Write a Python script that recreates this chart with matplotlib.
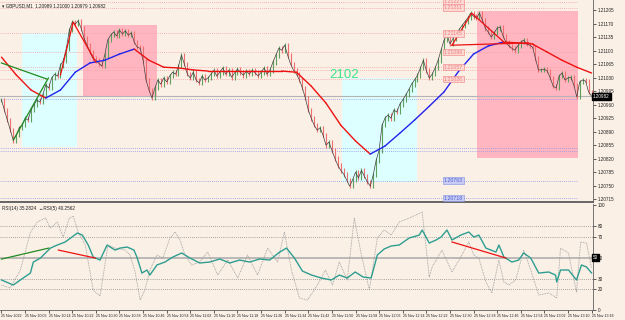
import matplotlib
matplotlib.use('Agg')
import matplotlib.pyplot as plt
from matplotlib.patches import Rectangle
import numpy as np

# GBPUSD M1 closes, one per minute from 09:58
closes = [
    1.20972, 1.20946, 1.20920, 1.20894, 1.20868, 1.20881, 1.20900, 1.20907, 1.20925, 1.20920,
    1.20946, 1.20959, 1.20972, 1.20967, 1.20985, 1.21011, 1.21003, 1.21029, 1.21039, 1.21034,
    1.21062, 1.21075, 1.21106, 1.21153, 1.21174, 1.21169, 1.21177, 1.21158, 1.21132, 1.21114,
    1.21096, 1.21080, 1.21075, 1.21067, 1.21060, 1.21088, 1.21127, 1.21140, 1.21148, 1.21138,
    1.21153, 1.21143, 1.21151, 1.21140, 1.21146, 1.21122, 1.21109, 1.21106, 1.21075, 1.21024,
    1.20998, 1.20977, 1.21003, 1.21024, 1.21013, 1.21029, 1.21019, 1.21034, 1.21044, 1.21039,
    1.21060, 1.21088, 1.21065, 1.21039, 1.21029, 1.21044, 1.21024, 1.21016, 1.21034, 1.21024,
    1.21029, 1.21039, 1.21049, 1.21034, 1.21044, 1.21055, 1.21039, 1.21049, 1.21031, 1.21042,
    1.21052, 1.21044, 1.21036, 1.21047, 1.21039, 1.21049, 1.21042, 1.21034, 1.21044, 1.21055,
    1.21039, 1.21049, 1.21070, 1.21088, 1.21106, 1.21101, 1.21114, 1.21088, 1.21065, 1.21049,
    1.21039, 1.21024, 1.21003, 1.20977, 1.20946, 1.20925, 1.20907, 1.20894, 1.20900, 1.20881,
    1.20855, 1.20863, 1.20842, 1.20821, 1.20803, 1.20790, 1.20780, 1.20765, 1.20749, 1.20765,
    1.20785, 1.20770, 1.20790, 1.20775, 1.20760, 1.20749, 1.20778, 1.20816, 1.20842, 1.20907,
    1.20925, 1.20933, 1.20925, 1.20946, 1.20941, 1.20961, 1.20972, 1.20985, 1.20998, 1.21013,
    1.21024, 1.21036, 1.21055, 1.21075, 1.21049, 1.21029, 1.21039, 1.21055, 1.21075, 1.21101,
    1.21127, 1.21143, 1.21117, 1.21130, 1.21146, 1.21153, 1.21164, 1.21174, 1.21184, 1.21197,
    1.21189, 1.21184, 1.21197, 1.21179, 1.21158, 1.21148, 1.21135, 1.21146, 1.21158, 1.21161,
    1.21138, 1.21122, 1.21112, 1.21106, 1.21101, 1.21112, 1.21122, 1.21127, 1.21117, 1.21114,
    1.21109, 1.21080, 1.21050, 1.21050, 1.21052, 1.21047, 1.21029, 1.21008, 1.21003, 1.21034,
    1.21042, 1.21024, 1.21029, 1.21031, 1.21011, 1.20980, 1.21019, 1.21024, 1.21021, 1.20993,
    1.20982,
]

# moving average read every 5 bars (red falling, blue rising)
ma_idx = list(range(0, 201, 5))
ma_vals = [
    1.21083, 1.21037, 1.20998, 1.20977, 1.20998, 1.21044, 1.21068, 1.21075, 1.21091, 1.21104,
    1.21075, 1.21057, 1.21055, 1.21050, 1.21047, 1.21047, 1.21047, 1.21047, 1.21047, 1.21047,
    1.21044, 1.21008, 1.20964, 1.20907, 1.20866, 1.20832, 1.20853, 1.20886, 1.20920, 1.20956,
    1.20993, 1.21047, 1.21091, 1.21112, 1.21122, 1.21120, 1.21117, 1.21096, 1.21075, 1.21057,
    1.21042,
]

# RSI(14) and RSI(5): bar position, value
rsi14_bars = [0, 4, 6.4, 9.8, 10.8, 13.2, 16.6, 18.9, 21.6, 25.7, 27.4, 29.4, 31.1, 33.4, 35.8,
              38.5, 40.2, 42.6, 44.9, 45.9, 47.6, 49.3, 50.3, 52.7, 55.4, 58.1, 61.1, 63.9, 67.2,
              70.6, 74, 77.4, 80.7, 84.1, 87.5, 90.9, 94.3, 96.6, 99.3, 102, 105.1, 108.4, 111.8,
              114.5, 117.2, 119.9, 122.6, 125.3, 127.4, 129.7, 132.1, 134.8, 138.2, 141.6, 142.6,
              145, 147.3, 149, 151, 152.7, 155.7, 158.4, 160.1, 161.8, 164.2, 167.6, 168.6, 170.3,
              173, 175.3, 177, 179.4, 182.1, 185.5, 187.8, 188.2, 189.5, 192.2, 194.9, 196.6,
              198.3, 200]
rsi14_vals = [28.6, 23.8, 28.6, 35.2, 45.7, 49.5, 59.0, 61.9, 64.8, 73.3, 71.4, 61.9, 50.5, 47.6,
              61.9, 57.1, 59.0, 60.0, 57.1, 50.5, 35.2, 38.1, 33.3, 42.9, 45.7, 50.5, 54.3, 49.5,
              44.8, 45.7, 48.6, 44.8, 47.6, 45.7, 48.6, 47.6, 55.2, 59.0, 49.5, 37.1, 33.3, 30.5,
              28.6, 33.3, 30.5, 36.2, 31.4, 30.5, 52.4, 58.1, 61.0, 61.9, 68.6, 71.4, 76.2, 63.8,
              66.7, 69.5, 76.2, 66.7, 71.4, 74.3, 69.5, 71.4, 59.0, 55.2, 61.9, 50.5, 45.7, 47.6,
              54.3, 49.5, 35.2, 36.2, 33.3, 26.7, 38.1, 38.1, 28.6, 42.9, 41.0, 35.3]
rsi5_bars = [0, 3, 6.4, 9.8, 12.2, 14.9, 16.6, 18.9, 20.9, 23, 24.3, 26, 28.4, 31.1, 33.4, 36.1,
             38.5, 41.9, 43.6, 45.3, 47, 48.6, 50.3, 52.7, 54.7, 57.1, 58.8, 60.5, 62.2, 64.5,
             67.2, 69.9, 73.3, 76.7, 80.1, 83.4, 86.8, 90.2, 93.6, 95.9, 98.3, 101, 103.7, 107.1,
             109.8, 112.2, 114.5, 117.2, 119.6, 122, 124.7, 127.4, 129.7, 132.1, 134.8, 138.2,
             142.6, 145, 146, 149.3, 152.7, 155.7, 158.4, 160.1, 161.8, 164.2, 166.2, 168.6,
             170.3, 172, 174.3, 177, 179.4, 182.1, 185.5, 188.2, 189.5, 192.2, 194.9, 196.3,
             198.3, 200]
rsi5_vals = [23.8, 21.0, 38.0, 74.0, 84.0, 87.6, 78.0, 84.0, 69.5, 87.6, 89.5, 74.3, 61.9, 19.0,
             13.3, 61.9, 59.0, 57.1, 52.4, 36.2, 9.5, 19.0, 38.0, 52.4, 49.5, 68.6, 74.3, 66.7,
             52.4, 42.9, 45.7, 55.2, 33.3, 47.6, 30.5, 52.4, 33.3, 59.0, 45.7, 74.3, 38.0, 11.4,
             9.5, 23.8, 38.0, 23.8, 45.7, 28.6, 87.6, 52.4, 19.0, 68.6, 76.2, 71.4, 83.8, 87.6,
             93.3, 31.4, 41.0, 57.1, 36.2, 50.5, 64.8, 52.4, 49.5, 26.7, 16.2, 47.6, 26.7, 23.8,
             28.6, 57.1, 38.0, 14.3, 16.2, 11.4, 59.0, 54.3, 17.1, 64.8, 63.8, 40.3]

# zone rectangles: (bar start, bar end, price low, price high)
cyan_zones = [(6.8, 25.7, 1.20850, 1.21145), (115.5, 140.9, 1.20760, 1.21029)]
pink_zones = [(27.7, 52.7, 1.20980, 1.21166), (161.1, 195.3, 1.20822, 1.21202)]

red_levels = [1.21227, 1.21211, 1.21145, 1.21096, 1.21057, 1.21050, 1.21026]
red_labeled = [True, True, True, True, True, False, True]
blue_levels = [1.20975, 1.20847, 1.20840, 1.20763, 1.20718, 1.20710]
blue_labeled = [False, False, False, True, True, False]
last_price = 1.20982

# pattern lines on price: lists of (bar, price)
green_lines = [[(0, 1.21068), (15.5, 1.21026)], [(4, 1.20868), (15.9, 1.21029)]]
red_lines = [[(20, 1.21037), (24.3, 1.21174), (32, 1.21070)],
             [(152.7, 1.21114), (159.4, 1.21197), (170.3, 1.21122)],
             [(152.7, 1.21114), (178.7, 1.21120)]]

# lines on RSI: (bar, rsi)
rsi_green = [(0, 48.5), (16, 59.0)]
rsi_red = [[(19.3, 57.1), (31.8, 49.5)], [(152.7, 64.8), (171, 49.5)]]

price_ticks = [1.20715, 1.20750, 1.20785, 1.20820, 1.20855, 1.20890, 1.20925, 1.20960,
               1.20995, 1.21030, 1.21065, 1.21100, 1.21135, 1.21170, 1.21205]
rsi_ticks = [0, 20, 30, 50, 70, 80, 100]
time_labels = ['25 Nov 2022', '25 Nov 10:06', '25 Nov 10:14', '25 Nov 10:22', '25 Nov 10:30',
               '25 Nov 10:38', '25 Nov 10:46', '25 Nov 10:54', '25 Nov 11:02', '25 Nov 11:10',
               '25 Nov 11:18', '25 Nov 11:26', '25 Nov 11:34', '25 Nov 11:42', '25 Nov 11:50',
               '25 Nov 11:58', '25 Nov 12:06', '25 Nov 12:14', '25 Nov 12:22', '25 Nov 12:30',
               '25 Nov 12:38', '25 Nov 12:46', '25 Nov 12:54', '25 Nov 13:02', '25 Nov 13:10',
               '25 Nov 13:18']

bg = '#FAF0E6'
fs = 3.3
plt.rcParams['font.family'] = ['Liberation Sans', 'DejaVu Sans']

fig = plt.figure(figsize=(6.25, 3.2), dpi=100, facecolor=bg)
ax = fig.add_axes([0, 1 - 202 / 320, 593 / 625, 202 / 320], facecolor=bg)
ax2 = fig.add_axes([0, 1 - 310 / 320, 593 / 625, 106 / 320], facecolor=bg)

n = len(closes)
x = np.arange(n)
c = np.array(closes)
o = np.concatenate([[c[0]], c[:-1]])
pad = 0.00006
hi = np.maximum(o, c) + pad
lo = np.minimum(o, c) - pad

for b0, b1, p0, p1 in cyan_zones:
    ax.add_patch(Rectangle((b0, p0), b1 - b0, p1 - p0, color='#DDFFFF', lw=0, zorder=0))
for b0, b1, p0, p1 in pink_zones:
    ax.add_patch(Rectangle((b0, p0), b1 - b0, p1 - p0, color='#FFB6C1', lw=0, zorder=0))

for lv, lab in zip(red_levels, red_labeled):
    ax.plot([-1, 195.5], [lv, lv], color='#F4A0A0', lw=0.6, ls=(0, (1, 1.5)), zorder=1)
    if lab:
        ax.text(150, lv, '%.5f' % lv, fontsize=3.8, color='#F08080', va='center', ha='left',
                bbox=dict(boxstyle='square,pad=0.15', fc='#FBD8D2', ec='#F08080', lw=0.4), zorder=6)
for lv, lab in zip(blue_levels, blue_labeled):
    ax.plot([-1, 195.5], [lv, lv], color='#8C94E8', lw=0.6, ls=(0, (1, 1.5)), zorder=1)
    if lab:
        ax.text(150, lv, '%.5f' % lv, fontsize=3.8, color='#5060D0', va='center', ha='left',
                bbox=dict(boxstyle='square,pad=0.15', fc='#C8CCF4', ec='#7F8FE0', lw=0.4), zorder=6)
ax.axhline(last_price, color='#B4B4B4', lw=0.8, zorder=1)

cols = np.where(c >= o, '#5FA05F', '#F07070')
ax.vlines(x, lo, hi, colors=cols, lw=0.8, zorder=2)
ax.plot(x, c, color='#404040', lw=0.5, zorder=3)

for k in range(len(ma_idx) - 1):
    col = '#EE1111' if ma_vals[k + 1] <= ma_vals[k] else '#2222EE'
    ax.plot(ma_idx[k:k + 2], ma_vals[k:k + 2], color=col, lw=1.0, zorder=4,
            solid_capstyle='round')

for seg in green_lines:
    ax.plot([p[0] for p in seg], [p[1] for p in seg], color='#228B22', lw=0.9, zorder=4)
for seg in red_lines:
    ax.plot([p[0] for p in seg], [p[1] for p in seg], color='#EE1111', lw=0.9, zorder=4)

ax.text(116, 1.21037, '2102', color='#3CE68C', fontsize=9.5, ha='center', va='center', zorder=5)
ax.text(0.004, 0.985, '\u25be GBPUSD,M1  1.20989 1.21000 1.20979 1.20982', transform=ax.transAxes,
        fontsize=fs, va='top', ha='left', color='#202020')

ax.set_xlim(-0.5, 200.5)
ax.set_ylim(1.20708, 1.21231)
ax.set_xticks([])
ax.yaxis.tick_right()
ax.set_yticks(price_ticks)
ax.set_yticklabels(['%.5f' % v for v in price_ticks], fontsize=fs)
ax.tick_params(axis='y', length=2, width=0.5, pad=1.5, colors='#202020')
for s in ['left', 'top']:
    ax.spines[s].set_visible(False)
ax.spines['right'].set_color('#606060')
ax.spines['right'].set_linewidth(0.6)
ax.spines['bottom'].set_color('#505050')
ax.spines['bottom'].set_linewidth(1.2)
ax.text(1.0, last_price, '%.5f' % last_price, transform=ax.get_yaxis_transform(), fontsize=fs,
        color='white', va='center', ha='left',
        bbox=dict(boxstyle='square,pad=0.2', fc='black', ec='black'), zorder=10, clip_on=False)

# RSI panel
for lv in [80, 70, 30, 20]:
    ax2.axhline(lv, color='#8A8A8A', lw=0.6, ls=(0, (1, 1.5)))
ax2.axhline(50, color='#B0B0B0', lw=1.2)
ax2.plot(rsi5_bars, rsi5_vals, color='#9A9A9A', lw=0.6, ls=(0, (1, 1)))
ax2.plot(rsi14_bars, rsi14_vals, color='#2E9E90', lw=1.0)
ax2.plot([p[0] for p in rsi_green], [p[1] for p in rsi_green], color='#228B22', lw=0.9)
for seg in rsi_red:
    ax2.plot([p[0] for p in seg], [p[1] for p in seg], color='#EE1111', lw=0.9)

ax2.text(0.004, 0.985, 'RSI(14) 35.2824  \u2194RSI(5) 40.2562', transform=ax2.transAxes,
         fontsize=fs, va='top', ha='left', color='#202020')

ax2.set_xlim(-0.5, 200.5)
ax2.set_ylim(0, 101)
ax2.yaxis.tick_right()
ax2.set_yticks(rsi_ticks)
ax2.set_yticklabels([str(v) for v in rsi_ticks], fontsize=fs)
ax2.tick_params(axis='y', length=2, width=0.5, pad=1.5, colors='#202020')
ax2.text(1.0, 50, '50', transform=ax2.get_yaxis_transform(), fontsize=fs, color='white',
         va='center', ha='left', bbox=dict(boxstyle='square,pad=0.2', fc='black', ec='black'),
         zorder=10, clip_on=False)
ax2.set_xticks(list(range(0, 201, 8)))
ax2.set_xticklabels(time_labels, fontsize=2.6, ha='left')
ax2.tick_params(axis='x', length=2, width=0.5, pad=1, colors='#202020')
for sp in ['left', 'top']:
    ax2.spines[sp].set_visible(False)
ax2.spines['right'].set_color('#606060')
ax2.spines['right'].set_linewidth(0.6)
ax2.spines['bottom'].set_color('#606060')
ax2.spines['bottom'].set_linewidth(0.6)

fig.savefig('out.png', dpi=100, facecolor=bg)
